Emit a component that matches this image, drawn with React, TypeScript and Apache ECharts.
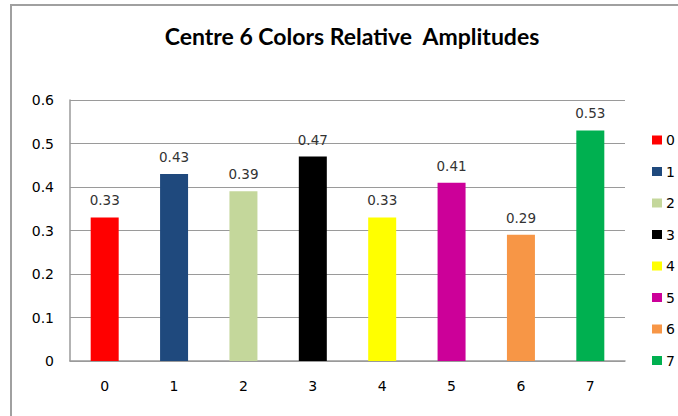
import React, { useEffect, useRef } from "react";
import * as echarts from "echarts";

const categories = ["0", "1", "2", "3", "4", "5", "6", "7"];
const values = [0.33, 0.43, 0.39, 0.47, 0.33, 0.41, 0.29, 0.53];
const colors = ["#FF0000", "#1F497D", "#C4D79B", "#000000", "#FFFF00", "#CC0099", "#F79646", "#00B050"];
const yTicks = [0, 0.1, 0.2, 0.3, 0.4, 0.5, 0.6];

export default function App() {
  const ref = useRef<HTMLDivElement>(null);
  useEffect(() => {
    if (!ref.current) return;
    const chart = echarts.init(ref.current, null, { renderer: "svg" });
    const series = categories.map((c, i) => ({
      name: c,
      type: "bar",
      stack: "all",
      barWidth: 28,
      itemStyle: { color: colors[i] },
      label: {
        show: true,
        position: "top",
        distance: 10,
        color: "#333",
        fontFamily: "DejaVu Sans",
        fontSize: 13.5,
        formatter: (p: any) => String(p.value),
      },
      data: categories.map((_, j) => (j === i ? values[i] : null)),
    }));
    chart.setOption({
      animation: false,
      backgroundColor: "#fff",
      title: {
        text: "Centre 6 Colors Relative  Amplitudes",
        left: 347,
        textAlign: "center",
        top: 19,
        textStyle: { fontFamily: "Lato", fontWeight: "bold", fontSize: 23, color: "#000" },
      },
      graphic: [
        {
          type: "rect",
          shape: { x: 11, y: 5, width: 720, height: 480 },
          style: { fill: "none", stroke: "#A0A0A0", lineWidth: 2 },
          silent: true,
        },
      ],
      legend: {
        orient: "vertical",
        left: 652,
        top: 133,
        padding: 0,
        itemWidth: 10,
        itemHeight: 9,
        itemGap: 17.5,
        icon: "rect",
        textStyle: { fontFamily: "DejaVu Sans", fontSize: 14, color: "#000", padding: [0, 0, 0, -1] },
        data: categories,
      },
      grid: { left: 70, right: 53, top: 100, bottom: 55 },
      xAxis: {
        type: "category",
        data: categories,
        axisLine: { lineStyle: { color: "#9A9A9A", width: 1.5 } },
        axisTick: { show: false },
        axisLabel: { color: "#000", fontFamily: "DejaVu Sans", fontSize: 14, margin: 18 },
      },
      yAxis: {
        type: "value",
        min: 0,
        max: 0.6,
        interval: 0.1,
        axisLine: { show: true, lineStyle: { color: "#9A9A9A", width: 1.5 } },
        axisTick: { show: false },
        splitLine: { lineStyle: { color: "#9A9A9A", width: 1.2 } },
        axisLabel: {
          color: "#000",
          fontFamily: "DejaVu Sans",
          fontSize: 14,
          margin: 16,
          formatter: (v: number) => {
            const t = yTicks.find((x) => Math.abs(x - v) < 1e-9);
            return t === 0 ? "0" : String(Math.round(v * 10) / 10);
          },
        },
      },
      series,
    });
    return () => chart.dispose();
  }, []);
  return <div ref={ref} style={{ position: "fixed", left: 0, top: 0, width: 678, height: 416 }} />;
}
